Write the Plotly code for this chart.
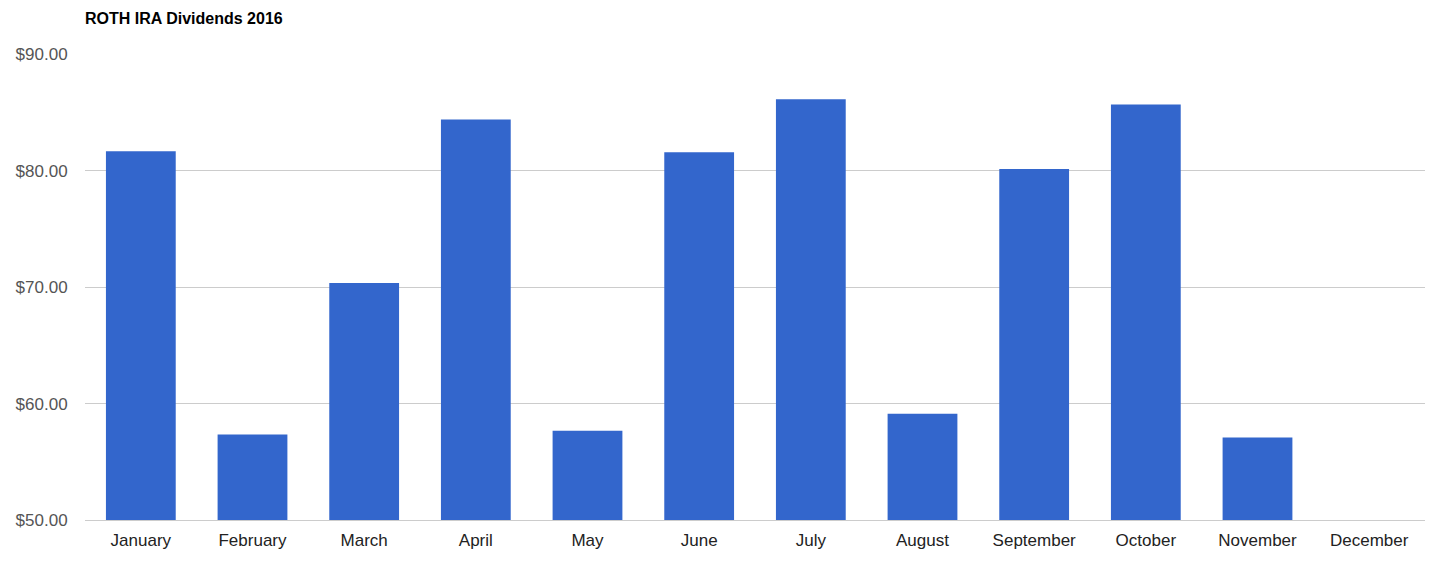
import plotly.graph_objects as go

months = ["January", "February", "March", "April", "May", "June",
          "July", "August", "September", "October", "November", "December"]
dividends = [81.68, 57.35, 70.36, 84.42, 57.66, 81.60,
             86.15, 59.12, 80.15, 85.70, 57.09, None]
y_ticks = [50, 60, 70, 80, 90]
y_labels = ["$%.2f" % v for v in y_ticks]

fig = go.Figure(
    go.Bar(
        x=months,
        y=dividends,
        marker={"color": "#3366cc", "line": {"width": 0}},
    )
)

fig.update_layout(
    width=1433,
    height=566,
    plot_bgcolor="white",
    paper_bgcolor="white",
    bargap=0.375,
    showlegend=False,
    margin={"l": 85, "r": 8, "t": 54, "b": 46, "autoexpand": False},
    font={"family": "Arial, Liberation Sans, sans-serif", "size": 17, "color": "#222222"},
    title={
        "text": "<b>ROTH IRA Dividends 2016</b>",
        "x": 85 / 1433,
        "xanchor": "left",
        "y": 1 - 18 / 566,
        "yanchor": "middle",
        "font": {"size": 16, "color": "#000000"},
    },
)
fig.update_xaxes(
    showgrid=False,
    showline=True,
    linecolor="#cccccc",
    linewidth=1,
    ticks="outside",
    ticklen=5,
    tickcolor="rgba(0,0,0,0)",
    tickfont={"size": 17, "color": "#222222"},
)
fig.update_yaxes(
    range=[50, 90.04],
    tickvals=y_ticks,
    ticktext=y_labels,
    showgrid=True,
    gridcolor="#cccccc",
    gridwidth=1,
    zeroline=False,
    showline=False,
    ticks="outside",
    ticklen=13,
    tickcolor="rgba(0,0,0,0)",
    tickfont={"size": 17, "color": "#555555"},
)

fig.write_html(
    "out.html",
    config={"displayModeBar": False},
    post_script="document.body.style.margin='0';",
)
